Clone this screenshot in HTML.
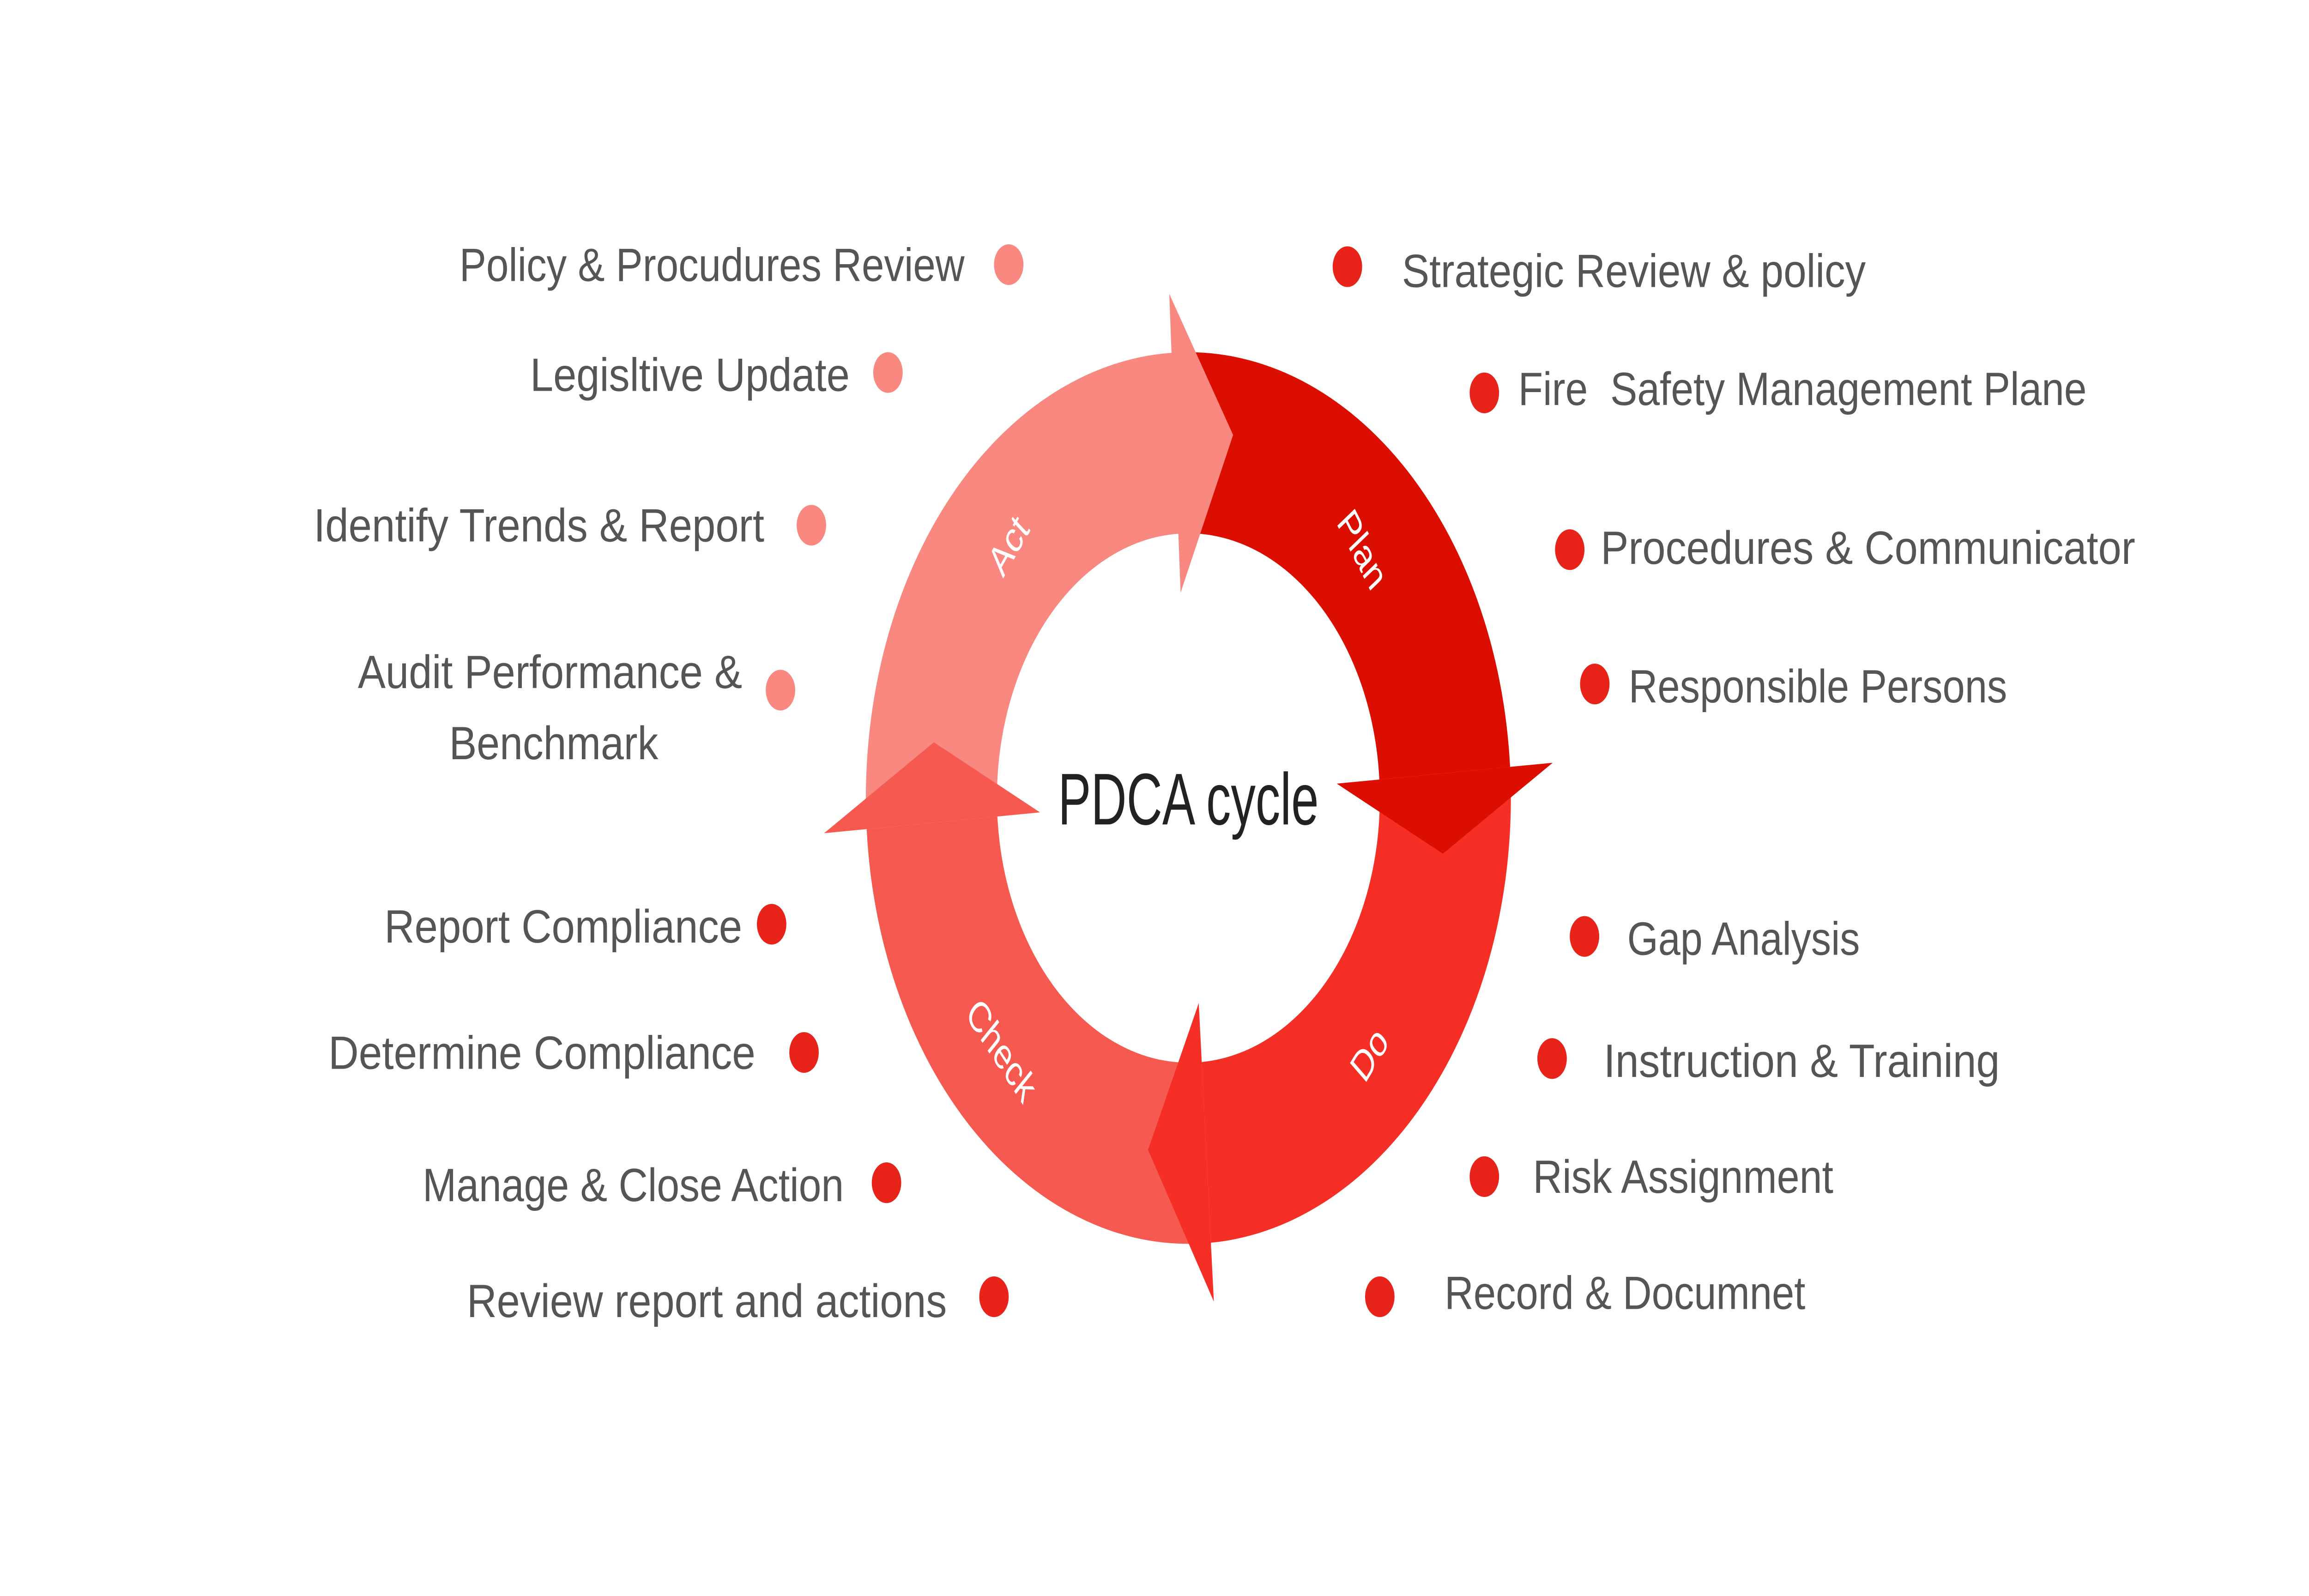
<!DOCTYPE html>
<html><head><meta charset="utf-8"><style>
html,body{margin:0;padding:0;background:#fff;width:100vw;height:100vh;overflow:hidden;}
svg{display:block;width:100vw;height:100vh;}
.l{font-family:"Liberation Sans",sans-serif;font-size:23px;fill:#555;}
.e{text-anchor:end;}
.w{font-family:"Liberation Sans",sans-serif;font-size:21px;fill:#fff;text-anchor:middle;}
</style></head><body>
<svg viewBox="0 0 1568 784" preserveAspectRatio="none" xmlns="http://www.w3.org/2000/svg">
<rect width="1568" height="784" fill="#fff"/>
<path d="M795.54,173.31 A219,219 0 0 1 1025.47,376.71 L936.69,382.93 A130,130 0 0 0 800.20,262.18 Z" fill="#DC0E00"/>
<path d="M1025.47,376.71 A219,219 0 0 1 822.29,610.47 L816.07,521.69 A130,130 0 0 0 936.69,382.93 Z" fill="#F52F25"/>
<path d="M822.29,610.47 A219,219 0 0 1 588.53,407.29 L677.31,401.07 A130,130 0 0 0 816.07,521.69 Z" fill="#F65950"/>
<path d="M588.53,407.29 A219,219 0 0 1 795.54,173.31 L800.20,262.18 A130,130 0 0 0 677.31,401.07 Z" fill="#F98880"/>
<polygon points="907.76,384.95 1054.40,374.69 979.85,419.37" fill="#DC0E00"/>
<polygon points="814.05,492.76 824.31,639.40 779.63,564.85" fill="#F52F25"/>
<polygon points="706.24,399.05 559.60,409.31 634.15,364.63" fill="#F65950"/>
<polygon points="801.72,291.14 794.03,144.34 837.38,213.66" fill="#F98880"/>
<text class="w" transform="translate(925,270) rotate(55)" dy="7">Plan</text>
<text class="w" transform="translate(930,518) rotate(-50)" dy="7">Do</text>
<text class="w" transform="translate(680,516) rotate(48)" dy="7">Check</text>
<text class="w" transform="translate(685,268) rotate(-52)" dy="7">Act</text>
<text x="807" y="405" text-anchor="middle" font-family="'Liberation Sans',sans-serif" font-size="36" fill="#222" textLength="177" lengthAdjust="spacingAndGlyphs">PDCA cycle</text>
<g class="l">
<text class="e" x="655" y="138" textLength="343" lengthAdjust="spacingAndGlyphs">Policy &amp; Procudures Review</text>
<text class="e" x="577" y="192" textLength="217" lengthAdjust="spacingAndGlyphs">Legisltive Update</text>
<text class="e" x="519" y="266" textLength="306" lengthAdjust="spacingAndGlyphs">Identify Trends &amp; Report</text>
<text class="e" x="504" y="338" textLength="261" lengthAdjust="spacingAndGlyphs">Audit Performance &amp;</text>
<text class="e" x="447" y="373" textLength="142" lengthAdjust="spacingAndGlyphs">Benchmark</text>
<text class="e" x="504" y="463" textLength="243" lengthAdjust="spacingAndGlyphs">Report Compliance</text>
<text class="e" x="513" y="525" textLength="290" lengthAdjust="spacingAndGlyphs">Determine Compliance</text>
<text class="e" x="573" y="590" textLength="286" lengthAdjust="spacingAndGlyphs">Manage &amp; Close Action</text>
<text class="e" x="643" y="647" textLength="326" lengthAdjust="spacingAndGlyphs">Review report and actions</text>
<text x="952" y="141" textLength="315" lengthAdjust="spacingAndGlyphs">Strategic Review &amp; policy</text>
<text x="1031" y="199" textLength="386" lengthAdjust="spacingAndGlyphs" xml:space="preserve">Fire  Safety Management Plane</text>
<text x="1087" y="277" textLength="363" lengthAdjust="spacingAndGlyphs">Procedures &amp; Communicator</text>
<text x="1106" y="345" textLength="257" lengthAdjust="spacingAndGlyphs">Responsible Persons</text>
<text x="1105" y="469" textLength="158" lengthAdjust="spacingAndGlyphs">Gap Analysis</text>
<text x="1089" y="529" textLength="269" lengthAdjust="spacingAndGlyphs">Instruction &amp; Training</text>
<text x="1041" y="586" textLength="204" lengthAdjust="spacingAndGlyphs">Risk Assignment</text>
<text x="981" y="643" textLength="245" lengthAdjust="spacingAndGlyphs">Record &amp; Documnet</text>
</g>
<g fill="#F98880">
<circle cx="685" cy="130" r="10"/>
<circle cx="603" cy="183" r="10"/>
<circle cx="551" cy="258" r="10"/>
<circle cx="530" cy="339" r="10"/>
</g>
<g fill="#E8231A">
<circle cx="524" cy="454" r="10"/>
<circle cx="546" cy="517" r="10"/>
<circle cx="602" cy="581" r="10"/>
<circle cx="675" cy="637" r="10"/>
<circle cx="915" cy="131" r="10"/>
<circle cx="1008" cy="193" r="10"/>
<circle cx="1066" cy="270" r="10"/>
<circle cx="1083" cy="336" r="10"/>
<circle cx="1076" cy="460" r="10"/>
<circle cx="1054" cy="520" r="10"/>
<circle cx="1008" cy="578" r="10"/>
<circle cx="937" cy="637" r="10"/>
</g>
</svg>
</body></html>
